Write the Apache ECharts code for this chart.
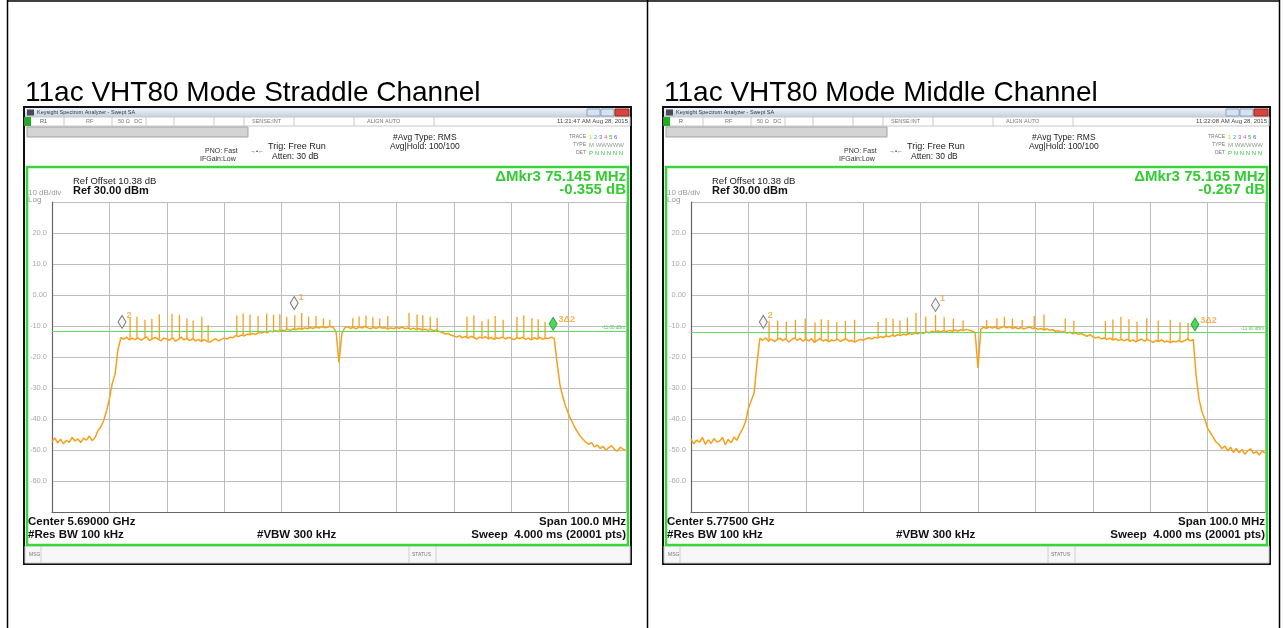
<!DOCTYPE html>
<html>
<head>
<meta charset="utf-8">
<title>11ac VHT80 Mode</title>
<script src="https://cdn.jsdelivr.net/npm/echarts@6/dist/echarts.min.js"></script>
<style>
  html, body { margin: 0; padding: 0; background: #fff; }
  #main { width: 1285px; height: 628px; }
</style>
</head>
<body>
<div id="main"></div>
<script>
// sweep samples, offset from center frequency in MHz
var freqStart = -50;
var freqStep = 0.5;

// Straddle channel trace (dBm), one value per 0.5 MHz
var straddleTrace = [
  -47.2, -46.1, -47.8, -46.5, -48.0, -46.9, -47.5, -45.9, -47.1, -46.4,
  -47.6, -46.2, -46.8, -45.5, -47.0, -46.0, -43.8, -42.6, -40.5, -37.5,
  -33.5, -28.5, -25.5, -17.5, -13.8, -14.2, -13.6, -14.5, -13.9, -14.4,
  -13.8, -14.6, -14.0, -13.5, -14.7, -14.1, -13.7, -14.3, -14.8, -13.9,
  -14.2, -14.6, -13.8, -14.9, -14.3, -13.6, -14.5, -14.0, -14.7, -14.1,
  -14.8, -14.3, -15.0, -14.4, -14.9, -15.2, -14.6, -14.1, -14.8, -14.3,
  -13.9, -14.2, -13.6, -13.8, -13.1, -13.4, -12.9, -13.2, -12.6, -12.8,
  -12.4, -12.7, -12.1, -12.3, -11.8, -12.2, -11.6, -11.9, -11.5, -11.8,
  -11.3, -11.6, -11.0, -11.4, -10.9, -11.2, -10.7, -11.1, -10.6, -10.9,
  -10.5, -10.8, -10.3, -10.7, -10.2, -10.6, -10.4, -10.1, -10.5, -12.0,
  -21.8, -12.5, -10.6, -10.2, -10.8, -10.4, -10.9, -10.3, -10.7, -10.1,
  -10.6, -10.9, -10.4, -10.8, -10.2, -10.7, -10.5, -11.0, -10.6, -10.9,
  -10.4, -10.8, -10.3, -10.9, -10.6, -11.1, -10.7, -11.2, -10.8, -11.3,
  -11.0, -11.4, -11.1, -11.6, -11.3, -11.8, -12.1, -12.6, -12.4, -12.9,
  -13.2, -13.6, -13.1, -13.8, -13.4, -13.9, -13.3, -13.7, -14.2, -13.6,
  -13.9, -13.4, -14.1, -13.7, -14.3, -13.8, -14.0, -13.5, -14.2, -13.7,
  -13.9, -14.4, -13.8, -14.1, -13.6, -14.3, -13.9, -14.5, -13.8, -14.2,
  -13.7, -14.3, -13.9, -14.1, -13.6, -14.0, -22.0, -29.0, -33.0, -36.0,
  -38.5, -40.5, -42.5, -44.0, -45.5, -46.5, -47.5, -48.2, -47.6, -49.0,
  -48.4, -49.5, -48.8, -50.1, -49.2, -48.6, -49.8, -50.4, -49.1, -49.7,
  -50.2
];

// Middle channel trace (dBm), one value per 0.5 MHz
var middleTrace = [
  -46.5, -48.0, -46.8, -47.5, -45.9, -48.2, -46.7, -47.9, -46.3, -47.4,
  -47.1, -46.0, -48.3, -46.6, -47.7, -45.8, -46.9, -44.8, -43.2, -40.9,
  -36.5, -34.0, -31.5, -22.0, -14.0, -14.6, -13.8, -14.9, -14.2, -15.0,
  -14.4, -13.9, -14.7, -14.1, -15.2, -14.5, -13.8, -14.6, -14.0, -14.9,
  -14.3, -14.8, -14.1, -15.3, -14.6, -14.0, -14.9, -14.4, -15.1, -14.5,
  -14.8, -14.2, -15.0, -14.5, -14.1, -14.9, -14.6, -15.2, -14.7, -14.3,
  -14.6, -14.1, -13.8, -14.2, -13.6, -13.9, -13.4, -13.7, -13.2, -13.5,
  -13.0, -13.3, -12.8, -13.1, -12.6, -12.9, -12.4, -12.7, -12.2, -12.5,
  -12.1, -12.4, -11.9, -12.2, -11.7, -12.0, -11.6, -11.9, -11.5, -11.8,
  -11.4, -11.7, -11.3, -11.6, -11.2, -11.5, -11.1, -11.4, -11.6, -12.2,
  -23.5, -11.0, -10.4, -10.8, -10.2, -10.7, -10.3, -10.9, -10.5, -10.1,
  -10.6, -10.2, -10.8, -10.4, -10.9, -10.5, -11.0, -10.6, -10.3, -10.8,
  -10.7, -11.1, -10.8, -11.3, -10.9, -11.4, -11.2, -11.7, -11.5, -12.0,
  -11.8, -12.3, -12.0, -12.5, -12.2, -12.7, -12.4, -12.9, -13.3, -12.8,
  -13.4, -13.9, -13.5, -14.2, -13.8, -14.4, -13.9, -14.5, -14.1, -14.7,
  -14.3, -14.8, -14.2, -14.9, -14.5, -15.1, -14.6, -14.2, -14.9, -14.4,
  -14.8, -15.3, -14.7, -15.0, -14.5, -15.2, -14.8, -15.4, -14.9, -15.1,
  -14.6, -15.2, -14.7, -14.2, -14.8, -14.3, -26.0, -33.5, -37.5, -40.0,
  -43.0, -44.5, -46.0, -47.5, -48.2, -49.6, -48.7, -50.3, -49.1, -50.8,
  -49.5, -50.9, -49.8, -51.4, -50.2, -49.6, -51.1, -50.5, -51.6, -50.3,
  -51.0
];

// narrow pilot spikes: [offset MHz, peak dBm]
var straddleSpikes = [
  [-36.4, -7.4], [-35.2, -7.0], [-33.8, -8.0], [-32.6, -7.7], [-31.3, -6.2], [-29.1, -6.1],
  [-27.8, -6.4], [-26.5, -7.6], [-25.4, -8.2], [-23.9, -7.0], [-22.8, -9.7],
  [-17.8, -6.5], [-16.7, -6.0], [-15.5, -6.3], [-14.1, -6.8], [-12.6, -6.0], [-11.4, -6.4],
  [-10.3, -6.2], [-9.1, -7.0], [-7.7, -6.5], [-6.5, -5.8], [-5.3, -7.0], [-4.0, -6.8],
  [-2.7, -7.5], [-1.6, -8.0],
  [2.4, -7.5], [3.5, -6.9], [4.7, -6.6], [5.9, -7.2], [7.1, -7.6], [8.5, -6.8],
  [12.2, -5.8], [13.6, -6.3], [14.6, -6.5], [15.9, -7.0], [17.1, -7.3],
  [22.3, -7.0], [23.5, -6.6], [24.9, -8.5], [26.0, -7.8], [27.2, -6.8], [28.6, -8.0],
  [31.0, -7.1], [32.2, -6.6], [33.6, -7.4], [34.7, -7.8], [35.9, -8.6]
];
var middleSpikes = [
  [-36.4, -8.5], [-34.9, -8.2], [-33.4, -8.6], [-31.8, -8.0], [-30.1, -7.6], [-28.4, -8.9],
  [-27.3, -7.8], [-26.1, -8.1], [-24.6, -8.8], [-23.1, -8.4], [-21.5, -8.0],
  [-17.4, -8.7], [-16.0, -7.4], [-14.8, -7.7], [-13.6, -8.2], [-12.3, -7.3], [-10.8, -5.8],
  [-9.1, -7.0], [-7.4, -6.4], [-5.9, -7.2], [-4.3, -7.6], [-2.6, -8.2],
  [1.5, -8.0], [3.3, -7.5], [4.6, -7.0], [6.0, -7.6], [7.7, -8.1], [9.8, -6.8],
  [11.5, -6.3], [15.2, -7.6], [16.7, -8.3],
  [22.2, -8.4], [23.5, -7.9], [24.9, -7.0], [26.3, -7.8], [27.7, -8.6], [29.4, -7.5],
  [31.4, -8.2], [33.5, -8.0], [35.2, -8.8], [36.6, -9.0]
];

// markers: [label, offset MHz, dBm]
var straddleMarkers = [['2', -37.8, -8.7], ['1', -7.8, -2.6], ['3Δ2', 37.3, -9.3]];
var middleMarkers = [['2', -37.4, -8.7], ['1', -7.4, -3.2], ['3Δ2', 37.8, -9.5]];

var displayLines = [-11.6, -11.9];
var yTickLabels = ['', '20.0', '10.0', '0.00', '-10.0', '-20.0', '-30.0', '-40.0', '-50.0', '-60.0', ''];

var panelTitles = ['11ac VHT80 Mode Straddle Channel', '11ac VHT80 Mode Middle Channel'];
var centerFreqs = ['5.69000 GHz', '5.77500 GHz'];
var deltaFreqs = ['75.145 MHz', '75.165 MHz'];
var deltaLevels = ['-0.355 dB', '-0.267 dB'];
var clockTimes = ['11:21:47 AM Aug 28, 2015', '11:22:08 AM Aug 28, 2015'];
var regLabels = ['R1', 'R'];

var traceColor = '#f4a11c';
var fontFam = '"Liberation Sans", Arial, sans-serif';
var panelX = [24, 663];

var myChart = echarts.init(document.getElementById('main'));

function txt(x, y, s, size, fill, align, weight) {
  return {
    type: 'text', x: x, y: y, z: 20, silent: true,
    style: {
      text: s,
      font: (weight || 'normal') + ' ' + size + 'px ' + fontFam,
      fill: fill || '#000',
      textAlign: align || 'left', align: align || 'left',
      textVerticalAlign: 'middle', verticalAlign: 'middle'
    }
  };
}
function rect(x, y, w, h, fill, stroke, lw, z) {
  return {
    type: 'rect', z: z === undefined ? 5 : z, silent: true,
    shape: { x: x, y: y, width: w, height: h },
    style: { fill: fill, stroke: stroke || null, lineWidth: lw || 0 }
  };
}
function line(x1, y1, x2, y2, color, lw, z) {
  return {
    type: 'line', z: z === undefined ? 6 : z, silent: true,
    shape: { x1: x1, y1: y1, x2: x2, y2: y2 },
    style: { stroke: color, lineWidth: lw || 1 }
  };
}

function panelGraphics(k) {
  var x0 = panelX[k];
  var g = [];
  // window + title bar
  g.push(rect(x0, 107, 607, 457, '#fff', '#111', 2, -10));
  g.push(rect(x0 + 1, 108, 605, 9, new echarts.graphic.LinearGradient(0, 0, 0, 1, [
    { offset: 0, color: '#eef3f9' }, { offset: 1, color: '#c4d1e1' }
  ]), null, 0, 1));
  g.push(rect(x0 + 3, 109.5, 7, 6, '#4a4a55', null, 0, 2));
  g.push(txt(x0 + 13, 112.5, 'Keysight Spectrum Analyzer - Swept SA', 5.5, '#334'));
  g.push(rect(x0 + 563, 109, 13, 7, '#d6e2f0', '#8ea2bd', 1, 2));
  g.push(rect(x0 + 577, 109, 13, 7, '#d6e2f0', '#8ea2bd', 1, 2));
  g.push(rect(x0 + 591, 109, 14, 7, '#d6463c', '#9a2a22', 1, 2));

  // status row
  g.push(rect(x0 + 1, 117, 605, 9, '#fff', '#c8c8c8', 1, 1));
  g.push(rect(x0 + 1, 117, 6, 9, '#1fae1f', null, 0, 2));
  [40, 88, 122, 150, 190, 220, 270, 330, 410].forEach(function (d) {
    g.push(line(x0 + d, 117, x0 + d, 126, '#c8c8c8', 1, 2));
  });
  g.push(txt(x0 + 16, 121.5, regLabels[k], 5.5, '#555'));
  g.push(txt(x0 + 62, 121.5, 'RF', 5.5, '#777'));
  g.push(txt(x0 + 94, 121.5, '50 Ω   DC', 5.5, '#777'));
  g.push(txt(x0 + 228, 121.5, 'SENSE:INT', 5.5, '#777'));
  g.push(txt(x0 + 343, 121.5, 'ALIGN AUTO', 5.5, '#777'));
  g.push(txt(x0 + 604, 121.5, clockTimes[k], 6, '#444', 'right'));

  // settings area
  g.push(rect(x0 + 3, 127, 221, 10, '#d4d4d4', '#a2a2a2', 1, 1));
  g.push(txt(x0 + 181, 151, 'PNO: Fast', 7, '#333'));
  g.push(txt(x0 + 226, 151, '→•←', 6, '#333'));
  g.push(txt(x0 + 176, 159, 'IFGain:Low', 7, '#333'));
  g.push(txt(x0 + 244, 147, 'Trig: Free Run', 9, '#222'));
  g.push(txt(x0 + 248, 157, 'Atten: 30 dB', 8.5, '#222'));
  g.push(txt(x0 + 369, 138, '#Avg Type: RMS', 8.5, '#222'));
  g.push(txt(x0 + 366, 147, 'Avg|Hold: 100/100', 8.5, '#222'));
  g.push(txt(x0 + 562, 137, 'TRACE', 5, '#777', 'right'));
  g.push(txt(x0 + 562, 145, 'TYPE', 5, '#777', 'right'));
  g.push(txt(x0 + 562, 153, 'DET', 5, '#777', 'right'));
  g.push({
    type: 'text', x: x0 + 565, y: 137, z: 20, silent: true,
    style: {
      text: '{a|1} {b|2} {c|3} {d|4} {e|5} {f|6}',
      font: '6px ' + fontFam, verticalAlign: 'middle', textVerticalAlign: 'middle',
      rich: {
        a: { fill: '#e8c400', font: '6px ' + fontFam }, b: { fill: '#20b8d0', font: '6px ' + fontFam },
        c: { fill: '#d040d0', font: '6px ' + fontFam }, d: { fill: '#e06080', font: '6px ' + fontFam },
        e: { fill: '#30b030', font: '6px ' + fontFam }, f: { fill: '#4060e0', font: '6px ' + fontFam }
      }
    }
  });
  g.push(txt(x0 + 565, 145, 'M WWWWW', 6, '#8a9a8a'));
  g.push(txt(x0 + 565, 153, 'P N N N N N', 6, '#3cbf3c'));

  // measurement frame
  g.push(rect(x0 + 3, 167, 601, 378, null, '#39d639', 2.5, 8));
  g.push(txt(x0 + 49, 181, 'Ref Offset 10.38 dB', 9.5, '#222'));
  g.push(txt(x0 + 49, 191, 'Ref 30.00 dBm', 11, '#111', 'left', 'bold'));
  g.push(txt(x0 + 4, 193, '10 dB/div', 8, '#999'));
  g.push(txt(x0 + 4, 200, 'Log', 8, '#999'));
  g.push(txt(x0 + 602, 177, 'ΔMkr3 ' + deltaFreqs[k], 15, '#33cc33', 'right', 'bold'));
  g.push(txt(x0 + 602, 190, deltaLevels[k], 15, '#33cc33', 'right', 'bold'));
  g.push(txt(x0 + 4, 522, 'Center ' + centerFreqs[k], 11.5, '#111', 'left', 'bold'));
  g.push(txt(x0 + 4, 535, '#Res BW 100 kHz', 11.5, '#111', 'left', 'bold'));
  g.push(txt(x0 + 233, 535, '#VBW 300 kHz', 11.5, '#111', 'left', 'bold'));
  g.push(txt(x0 + 602, 522, 'Span 100.0 MHz', 11.5, '#111', 'right', 'bold'));
  g.push(txt(x0 + 602, 535, 'Sweep  4.000 ms (20001 pts)', 11.5, '#111', 'right', 'bold'));

  // message bar
  g.push(rect(x0 + 1, 546, 605, 17, '#f7f7f7', '#d0d0d0', 1, 1));
  g.push(line(x0 + 17, 546, x0 + 17, 563, '#d0d0d0', 1, 2));
  g.push(line(x0 + 385, 546, x0 + 385, 563, '#d0d0d0', 1, 2));
  g.push(line(x0 + 412, 546, x0 + 412, 563, '#d0d0d0', 1, 2));
  g.push(txt(x0 + 5, 554.5, 'MSG', 5, '#777'));
  g.push(txt(x0 + 388, 554.5, 'STATUS', 5, '#777'));

  // page title above the screenshot
  g.push(txt(x0 + 1, 93, panelTitles[k], 28, '#000'));
  return g;
}

function traceData(arr) {
  return arr.map(function (v, i) { return [freqStart + i * freqStep, v]; });
}
function spikeData(spikes, arr) {
  return spikes.map(function (s) {
    var i = Math.round((s[0] - freqStart) / freqStep);
    return [s[0], s[1], arr[i]];
  });
}
function markerData(marks) {
  return marks.map(function (m) {
    var delta = m[0] === '3Δ2';
    return {
      name: m[0], value: [m[1], m[2]],
      itemStyle: delta ? { color: '#22cc33', borderColor: '#129922', borderWidth: 1 }
                       : { color: '#f2f2f2', borderColor: '#555', borderWidth: 1 },
      label: { offset: delta ? [0, -4] : [-1, -6] }
    };
  });
}

function buildAxes(k) {
  var base = {
    gridIndex: k, type: 'value',
    axisTick: { show: false },
    axisLine: { show: true, onZero: false, lineStyle: { color: '#666', width: 1.2 } },
    splitLine: { show: true, lineStyle: { color: '#bdbdbd', width: 1 } }
  };
  var x = Object.assign({}, base, { min: -50, max: 50, interval: 10, axisLabel: { show: false } });
  var y = Object.assign({}, base, {
    min: -70, max: 30, interval: 10,
    axisLabel: {
      fontSize: 7.5, color: '#aaa', margin: 5, fontFamily: fontFam,
      formatter: function (v) { return yTickLabels[Math.round((30 - v) / 10)]; }
    }
  });
  return [x, y];
}

function buildSeries(k, arr, spikes, marks) {
  return [
    {
      type: 'line', xAxisIndex: k, yAxisIndex: k, z: 3,
      data: traceData(arr), showSymbol: false, symbol: 'none',
      lineStyle: { color: traceColor, width: 1.5 },
      markLine: {
        silent: true, symbol: 'none',
        lineStyle: { color: '#5fdc5f', width: 1, type: 'solid' },
        label: {
          position: 'insideEndTop', fontSize: 4.5, color: '#5c5', distance: 1,
          formatter: function (p) { return p.value.toFixed(2) + ' dBm'; }
        },
        data: [{ yAxis: displayLines[k] }]
      }
    },
    {
      type: 'custom', xAxisIndex: k, yAxisIndex: k, z: 3,
      data: spikeData(spikes, arr),
      encode: { x: 0, y: [1, 2] },
      renderItem: function (params, api) {
        var a = api.coord([api.value(0), api.value(2)]);
        var b = api.coord([api.value(0), api.value(1)]);
        return {
          type: 'line',
          shape: { x1: a[0], y1: a[1], x2: b[0], y2: b[1] },
          style: { stroke: traceColor, lineWidth: 1.3 }
        };
      }
    },
    {
      type: 'scatter', xAxisIndex: k, yAxisIndex: k, z: 4,
      symbol: 'diamond', symbolSize: [8, 13],
      data: markerData(marks),
      label: {
        show: true, position: 'right', distance: 1,
        color: '#f0a030', fontSize: 9, fontWeight: 'bold', fontFamily: fontFam,
        formatter: function (p) { return p.name; }
      }
    }
  ];
}

var axes0 = buildAxes(0), axes1 = buildAxes(1);

var tableLines = [
  line(7, 1, 1279, 1, '#000', 1.5, -20),
  line(7.5, 0, 7.5, 628, '#000', 1.5, -20),
  line(647.5, 0, 647.5, 628, '#000', 1.5, -20),
  line(1279.5, 0, 1279.5, 628, '#000', 1.5, -20)
];

var option = {
  animation: false,
  backgroundColor: '#fff',
  grid: [
    { left: 52, top: 202, width: 574, height: 310, show: true, backgroundColor: '#fff', borderWidth: 0 },
    { left: 691, top: 202, width: 574, height: 310, show: true, backgroundColor: '#fff', borderWidth: 0 }
  ],
  xAxis: [axes0[0], axes1[0]],
  yAxis: [axes0[1], axes1[1]],
  graphic: { elements: tableLines.concat(panelGraphics(0), panelGraphics(1)) },
  series: buildSeries(0, straddleTrace, straddleSpikes, straddleMarkers)
    .concat(buildSeries(1, middleTrace, middleSpikes, middleMarkers))
};

myChart.setOption(option);
</script>
</body>
</html>
